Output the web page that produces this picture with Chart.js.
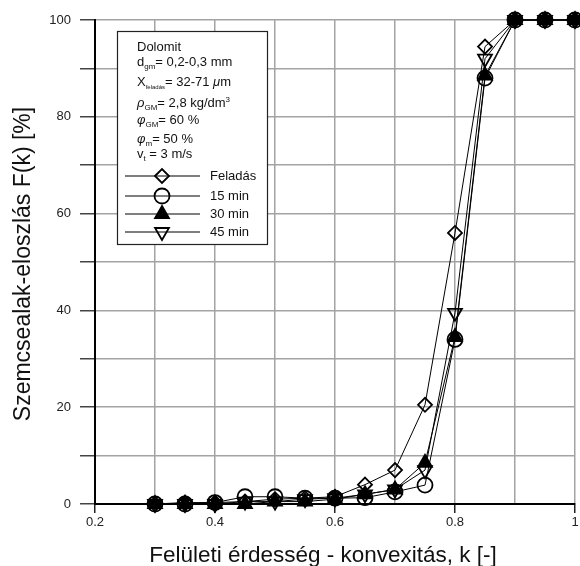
<!DOCTYPE html>
<html><head><meta charset="utf-8">
<script src="https://cdn.jsdelivr.net/npm/chart.js@4.4.1/dist/chart.umd.min.js"></script>
<style>
html,body{margin:0;padding:0;overflow:hidden;background:#fff;width:580px;height:566px}
#wrap{width:580px;height:566px;overflow:hidden;position:relative}
canvas{display:block}
</style></head>
<body><div id="wrap"><canvas id="c" width="600" height="566"></canvas></div>
<script>
// ---- data ----
const kValues = [0.30, 0.35, 0.40, 0.45, 0.50, 0.55, 0.60, 0.65, 0.70, 0.75, 0.80, 0.85, 0.90, 0.95, 1.00];
const feladas = [0, 0.3, 0.3, 0.5, 1.0, 1.2, 1.5, 4.0, 7.0, 20.5, 56.0, 94.5, 100, 100, 100];
const min15   = [0, 0.0, 0.3, 1.5, 1.5, 1.2, 1.2, 1.3, 2.5, 3.9, 34.0, 88.0, 100, 100, 100];
const min30   = [0, 0.0, 0.0, 0.0, 0.5, 0.5, 1.0, 2.0, 3.0, 8.5, 34.5, 88.5, 100, 100, 100];
const min45   = [0, 0.0, 0.0, 0.5, 0.5, 1.0, 1.2, 2.0, 3.0, 7.0, 39.5, 92.0, 100, 100, 100];
const seriesNames = ['Feladás', '15 min', '30 min', '45 min'];
const xTickLabels = ['0.2', '0.4', '0.6', '0.8', '1'];
const yTickLabels = ['0', '20', '40', '60', '80', '100'];
const xAxisTitle = 'Felületi érdesség - konvexitás, k [-]';
const yAxisTitle = 'Szemcsealak-eloszlás F(k) [%]';
const infoLines = [
  [['Dolomit', 'n']],
  [['d', 'n'], ['gm', 'sub'], ['= 0,2-0,3 mm', 'n']],
  [['X', 'n'], ['feladás', 'sub'], ['= 32-71 ', 'n'], ['μ', 'it'], ['m', 'n']],
  [['ρ', 'it'], ['GM', 'sub'], ['= 2,8 kg/dm', 'n'], ['3', 'sup']],
  [['φ', 'it'], ['GM', 'sub'], ['= 60 %', 'n']],
  [['φ', 'it'], ['m', 'sub'], ['= 50 %', 'n']],
  [['v', 'n'], ['t', 'sub'], [' = 3 m/s', 'n']]
];

// ---- styles / layout ----
const FONT = "'Liberation Sans', Arial, sans-serif";
const seriesData = [feladas, min15, min30, min45];
const markerStyles = [
  {pointStyle: 'rectRot', rotation: 0, radius: 7, fill: 'rgba(0,0,0,0)'},
  {pointStyle: 'circle', rotation: 0, radius: 7.5, fill: 'rgba(0,0,0,0)'},
  {pointStyle: 'triangle', rotation: 0, radius: 8, fill: '#000'},
  {pointStyle: 'triangle', rotation: 180, radius: 8, fill: 'rgba(0,0,0,0)'}
];
const infoY = [51, 66, 86, 107, 124, 143, 158];
const legendY = [176, 196, 214, 232];
const box = {l: 117, t: 31, r: 267, b: 244};

const datasets = seriesNames.map((name, i) => ({
  label: name,
  data: kValues.map((k, j) => ({x: k, y: seriesData[i][j]})),
  borderColor: '#000',
  borderWidth: 1,
  pointStyle: markerStyles[i].pointStyle,
  pointRotation: markerStyles[i].rotation,
  pointRadius: markerStyles[i].radius,
  pointHoverRadius: markerStyles[i].radius,
  pointBackgroundColor: markerStyles[i].fill,
  pointBorderColor: '#000',
  pointBorderWidth: 1.8,
  tension: 0,
  fill: false,
  clip: false
}));

const overlay = {
  id: 'overlay',
  afterDraw(chart) {
    const c = chart.ctx;
    c.save();
    // axis titles
    c.fillStyle = '#111';
    c.font = '22.5px ' + FONT;
    c.textAlign = 'center';
    c.textBaseline = 'alphabetic';
    c.fillText(xAxisTitle, 323, 562);
    c.save();
    c.translate(30, 264);
    c.rotate(-Math.PI / 2);
    c.font = '23px ' + FONT;
    c.fillText(yAxisTitle, 0, 0);
    c.restore();

    // legend box
    c.fillStyle = '#fff';
    c.fillRect(box.l, box.t, box.r - box.l, box.b - box.t);
    c.strokeStyle = '#222';
    c.lineWidth = 1.2;
    c.strokeRect(box.l + 0.5, box.t + 0.5, box.r - box.l, box.b - box.t);

    c.textAlign = 'left';
    c.fillStyle = '#111';
    infoLines.forEach((line, i) => {
      let x = 137;
      const y = infoY[i];
      line.forEach(([txt, kind]) => {
        let yy = y;
        if (kind === 'sub') { c.font = (txt.length > 4 ? '6px ' : '8px ') + FONT; yy = y + 3; }
        else if (kind === 'sup') { c.font = '8px ' + FONT; yy = y - 5; }
        else if (kind === 'it') { c.font = 'italic 13px ' + FONT; }
        else { c.font = '13px ' + FONT; }
        c.fillText(txt, x, yy);
        x += c.measureText(txt).width;
      });
    });

    seriesNames.forEach((name, i) => {
      const y = legendY[i];
      c.strokeStyle = '#000';
      c.lineWidth = 1.2;
      c.beginPath();
      c.moveTo(125, y);
      c.lineTo(200, y);
      c.stroke();
      const m = markerStyles[i];
      c.fillStyle = m.fill;
      c.strokeStyle = '#000';
      c.lineWidth = 1.8;
      Chart.helpers.drawPoint(c, {pointStyle: m.pointStyle, rotation: m.rotation, radius: m.radius, borderWidth: 1.8}, 162, y);
      c.fillStyle = '#111';
      c.font = '13px ' + FONT;
      c.textBaseline = 'middle';
      c.fillText(name, 210, y);
      c.textBaseline = 'alphabetic';
    });
    c.restore();
  }
};

new Chart(document.getElementById('c'), {
  type: 'line',
  data: {datasets},
  options: {
    responsive: false,
    animation: false,
    events: [],
    layout: {padding: {top: 20, right: 25, left: 0, bottom: 0}},
    plugins: {legend: {display: false}, tooltip: {enabled: false}},
    scales: {
      x: {
        type: 'linear', min: 0.2, max: 1.0,
        afterFit: s => { s.height = 62; },
        border: {color: '#000', width: 2},
        grid: {
          color: '#a3a3a3', lineWidth: 1.5, drawTicks: true, tickLength: 9, tickWidth: 1.5,
          tickColor: c => (c.tick && Math.round(c.tick.value * 10) % 2 === 0) ? '#222' : 'rgba(0,0,0,0)'
        },
        ticks: {
          stepSize: 0.1, autoSkip: false, maxRotation: 0, padding: 2,
          color: '#222', font: {family: FONT, size: 13},
          callback: v => { const n = Math.round(v * 10); return n % 2 === 0 ? xTickLabels[(n - 2) / 2] : ''; }
        }
      },
      y: {
        type: 'linear', min: 0, max: 100,
        afterFit: s => { s.width = 95; },
        border: {color: '#000', width: 2},
        grid: {color: '#a3a3a3', lineWidth: 1.5, drawTicks: true, tickLength: 15, tickWidth: 1.5, tickColor: '#444'},
        ticks: {
          stepSize: 10, autoSkip: false, padding: 9,
          color: '#222', font: {family: FONT, size: 13},
          callback: v => (Math.round(v) % 20 === 0 ? yTickLabels[Math.round(v) / 20] : '')
        }
      }
    }
  },
  plugins: [overlay]
});
</script>
</body></html>
